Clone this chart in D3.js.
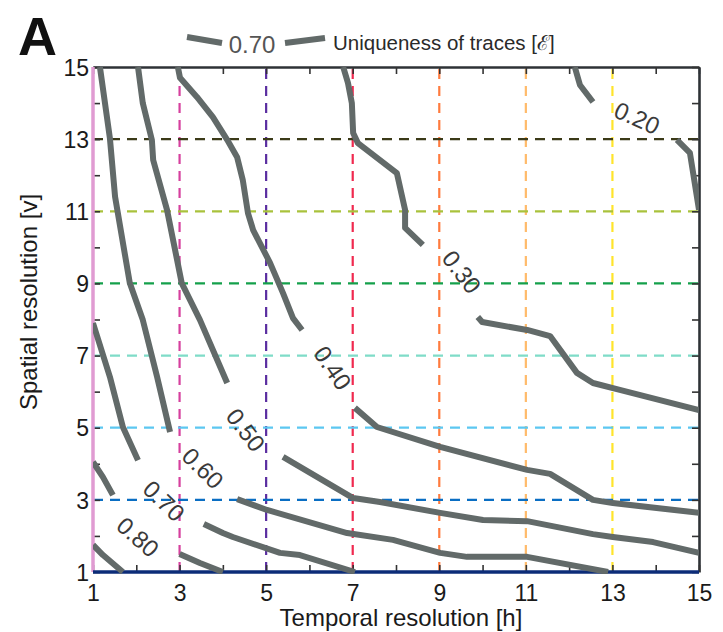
<!DOCTYPE html>
<html><head><meta charset="utf-8">
<script src="https://cdn.jsdelivr.net/npm/d3@7"></script>
<style>
body{margin:0;background:#fff}
svg{display:block}
text{font-family:"Liberation Sans",Arial,Helvetica,sans-serif}
</style>
</head><body>
<svg id="chart" width="723" height="632"></svg>
<script>
// ---------- data ----------
const allTicks = [1,2,3,4,5,6,7,8,9,10,11,12,13,14,15];
const xTickLabels = [1,3,5,7,9,11,13,15];
const yTickLabels = [1,3,5,7,9,11,13,15];
const gridX = [3,5,7,9,11,13];
const gridY = [3,5,7,9,11,13];
const levelNames = ["0.20","0.30","0.40","0.50","0.60","0.70","0.80"];

// each contour: list of segments (broken where the inline label sits)
const contour20 = [
  [[12.13,15],[12.25,14.5],[12.55,14.03]],
  [[14.49,12.98],[14.79,12.62],[15,11.04]]
];
const contour30 = [
  [[6.78,15],[6.89,14.56],[6.98,14.0],[7.01,13.17],[7.12,12.89],[8.02,12.06],[8.21,11.04],[8.21,10.54],[8.62,10.07]],
  [[9.89,8.07],[9.99,7.93],[11.03,7.71],[11.56,7.54],[12.18,6.52],[12.55,6.24],[13.17,6.05],[15,5.49]]
];
const contour40 = [
  [[2.96,15],[3.01,14.7],[3.4,14.17],[3.77,13.61],[4.1,12.98],[4.33,12.5],[4.46,11.87],[4.58,10.95],[4.7,10.48],[5.09,9.57],[5.39,8.73],[5.62,8.04],[5.83,7.71]],
  [[7.05,5.55],[7.56,5.02],[9.02,4.47],[11.03,3.83],[11.56,3.72],[12.55,3.0],[13.01,2.91],[15,2.64]]
];
const contour50 = [
  [[2.04,15],[2.15,14.0],[2.36,12.98],[2.39,12.42],[2.71,11.04],[3.05,9.01],[3.47,7.99],[4.1,6.24]],
  [[5.39,4.19],[7.01,3.05],[7.63,2.94],[9.02,2.64],[10.01,2.44],[11.03,2.41],[12.55,2.05],[13.01,1.97],[13.94,1.83],[15,1.53]]
];
const contour60 = [
  [[1.16,15],[1.39,13.03],[1.51,11.4],[1.85,9.01],[2.15,7.99],[2.48,6.41],[2.78,4.88]],
  [[4.33,3.02],[5.02,2.72],[6.87,2.08],[7.93,1.89],[9.02,1.53],[9.64,1.42],[11.03,1.42],[12.9,1.0]]
];
const contour70 = [
  [[1.0,7.9],[1.39,6.41],[1.69,5.02],[2.04,4.1]],
  [[3.56,2.33],[4.0,2.08],[4.23,1.97],[5.32,1.53],[5.78,1.47],[7.05,1.0]]
];
const contour80 = [
  [[1.0,4.05],[1.23,3.63],[1.46,3.13]],
  [[3.0,1.5],[3.47,1.25],[4.0,1.0]]
];
const contour90 = [
  [[1.0,1.75],[1.23,1.47],[1.69,1.0]]
];
// label centres in data units
const labelX = [13.57, 9.52, 6.54, 4.53, 3.54, 2.64, 2.04];
const labelY = [13.59, 9.32, 6.66, 4.94, 3.88, 2.97, 1.97];

// ---------- styles ----------
const gridXColors = ["#d6409e","#5a2da0","#f0294f","#ff7b3e","#ffbb6b","#ffe42b"];
const gridYColors = ["#0a6ec3","#5cc7f1","#7fdcc8","#14a04b","#a9c23c","#3b3a18"];
const lineColor = "#626a69";

// ---------- layout ----------
const W = 723, H = 632;
const M = {left:93, top:67, right:24, bottom:60};
const svg = d3.select("#chart");
const x = d3.scaleLinear().domain([1,15]).range([M.left, W - M.right]);
const y = d3.scaleLinear().domain([1,15]).range([H - M.bottom, M.top]);

svg.append("defs").append("clipPath").attr("id","plotclip")
  .append("rect").attr("x", x(1)).attr("y", y(15))
  .attr("width", x(15)-x(1)).attr("height", y(1)-y(15)+2);

// dashed grid
svg.append("g").selectAll("line").data(gridX).join("line")
  .attr("x1", d => x(d)).attr("x2", d => x(d))
  .attr("y1", y(1)).attr("y2", y(15))
  .attr("stroke", (d,i) => gridXColors[i]).attr("stroke-width", 2.2)
  .attr("stroke-dasharray", "10,7");
svg.append("g").selectAll("line").data(gridY).join("line")
  .attr("y1", d => y(d)).attr("y2", d => y(d))
  .attr("x1", x(1)).attr("x2", x(15))
  .attr("stroke", (d,i) => gridYColors[i]).attr("stroke-width", 2.2)
  .attr("stroke-dasharray", "10,7");

// axes
const tickStyle = g => {
  g.selectAll(".tick line").attr("stroke", "#333").attr("stroke-width", 1.6);
  g.selectAll(".tick text").attr("fill", "#1a1a1a").style("font-size", "23px")
   .style("font-family", '"Liberation Sans",Arial,sans-serif');
};
svg.append("g").attr("transform", `translate(0,${y(15)})`)
  .call(d3.axisTop(x).tickValues(allTicks).tickSizeInner(-7).tickSizeOuter(0).tickFormat(""))
  .call(g => g.select(".domain").attr("stroke", "#2e3236").attr("stroke-width", 2.6))
  .call(tickStyle);
svg.append("g").attr("transform", `translate(${x(15)},0)`)
  .call(d3.axisRight(y).tickValues(allTicks).tickSizeInner(-7).tickSizeOuter(0).tickFormat(""))
  .call(g => g.select(".domain").attr("stroke", "#2e3236").attr("stroke-width", 2.6))
  .call(tickStyle);
svg.append("g").attr("transform", `translate(0,${y(1)})`)
  .call(d3.axisBottom(x).tickValues(allTicks).tickSizeInner(-7).tickSizeOuter(0).tickPadding(13)
        .tickFormat(d => xTickLabels.includes(d) ? d : ""))
  .call(g => g.select(".domain").remove())
  .call(tickStyle);
svg.append("g").attr("transform", `translate(${x(1)},0)`)
  .call(d3.axisLeft(y).tickValues(allTicks).tickSizeInner(-7).tickSizeOuter(0).tickPadding(4)
        .tickFormat(d => yTickLabels.includes(d) ? d : ""))
  .call(g => g.select(".domain").remove())
  .call(tickStyle)
  .call(g => g.selectAll(".tick text").attr("dy", "0.36em"));

// solid x=1 and y=1 lines
svg.append("line").attr("x1", x(1)).attr("x2", x(1)).attr("y1", y(1)).attr("y2", y(15))
  .attr("stroke", "#e09bd2").attr("stroke-width", 3.5);
svg.append("line").attr("x1", x(1)).attr("x2", x(15)).attr("y1", y(1)).attr("y2", y(1))
  .attr("stroke", "#0c2c78").attr("stroke-width", 3.5);

// contours
const contours = [contour20, contour30, contour40, contour50, contour60, contour70, contour80, contour90];
const line = d3.line().x(d => x(d[0])).y(d => y(d[1]));
const cg = svg.append("g").attr("clip-path", "url(#plotclip)");
contours.forEach(c => {
  c.forEach(seg => {
    cg.append("path").attr("d", line(seg)).attr("fill", "none")
      .attr("stroke", lineColor).attr("stroke-width", 6)
      .attr("stroke-linejoin", "round").attr("stroke-linecap", "butt");
  });
});

// inline labels
levelNames.forEach((name, i) => {
  const c = contours[i];
  const a = c[0][c[0].length-1], b = c[1][0];
  const ang = Math.atan2(y(b[1]) - y(a[1]), x(b[0]) - x(a[0])) * 180 / Math.PI;
  svg.append("text")
    .attr("transform", `translate(${x(labelX[i])},${y(labelY[i])}) rotate(${ang})`)
    .attr("text-anchor", "middle").attr("dy", "0.36em")
    .attr("fill", "#3a3a3a").style("font-size", "24px")
    .text(name);
});

// legend
const lg = svg.append("g");
lg.append("line").attr("x1", 187).attr("y1", 37).attr("x2", 222).attr("y2", 43)
  .attr("stroke", lineColor).attr("stroke-width", 6);
lg.append("text").attr("x", 252).attr("y", 53).attr("text-anchor", "middle")
  .attr("fill", "#555").style("font-size", "24px").text("0.70");
lg.append("line").attr("x1", 285).attr("y1", 43).attr("x2", 325).attr("y2", 38)
  .attr("stroke", lineColor).attr("stroke-width", 6);
lg.append("text").attr("x", 333).attr("y", 50).attr("fill", "#2a2a2a")
  .style("font-size", "20.5px").text("Uniqueness of traces [ℰ]");

// titles
svg.append("text").attr("x", 401).attr("y", 626).attr("text-anchor", "middle")
  .attr("fill", "#1a1a1a").style("font-size", "24px").text("Temporal resolution [h]");
svg.append("text").attr("transform", "translate(37,302) rotate(-90)").attr("text-anchor", "middle")
  .attr("fill", "#1a1a1a").style("font-size", "24px").text("Spatial resolution [v]");
svg.append("text").attr("x", 18).attr("y", 55).attr("fill", "#111")
  .style("font-size", "54px").style("font-weight", "bold").text("A");
</script>
</body></html>
